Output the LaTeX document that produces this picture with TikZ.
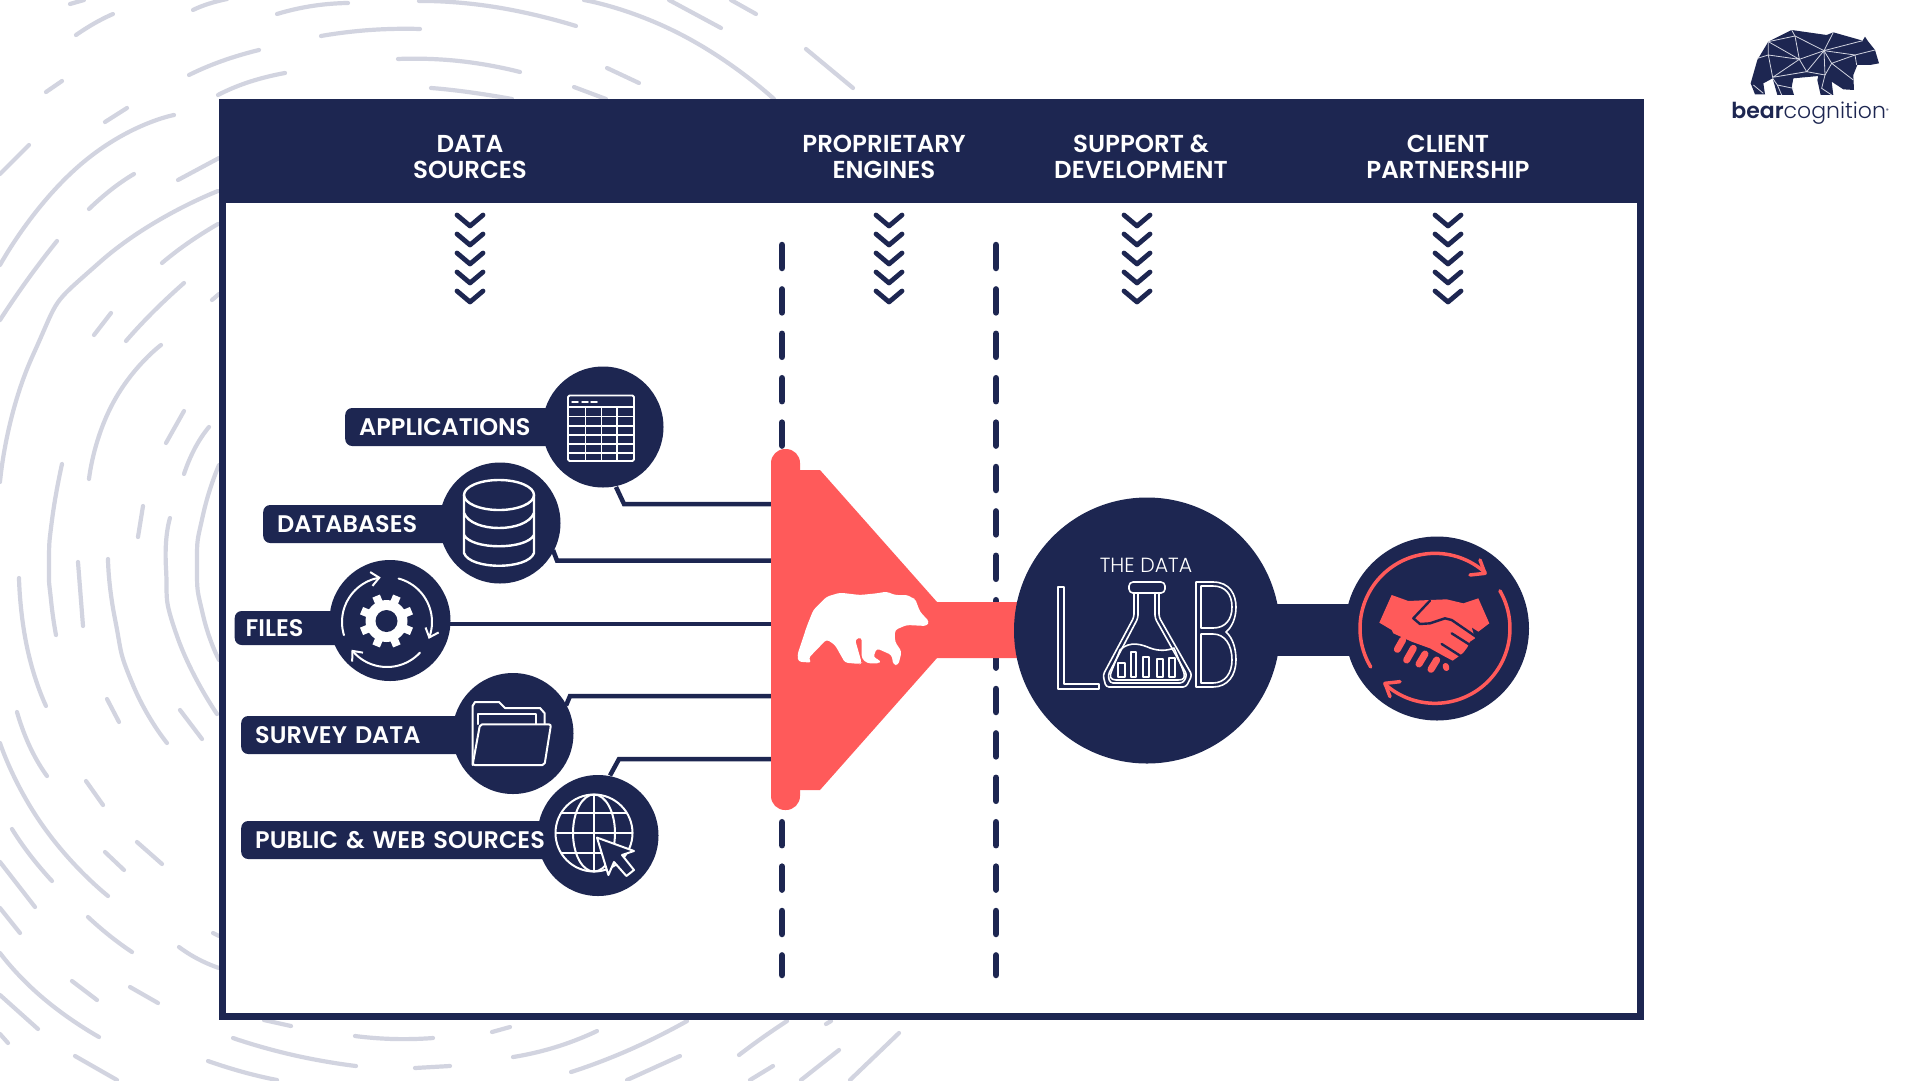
\documentclass[tikz,border=0pt]{standalone}
\usepackage{fontspec}
\usepackage{tikz}
\usepackage{xcolor}
\usetikzlibrary{arrows.meta}
\setmainfont{Poppins}[BoldFont={Poppins SemiBold}]
\newfontfamily\lightfont{Poppins Light}
\definecolor{navy}{RGB}{29,38,81}
\definecolor{coral}{RGB}{255,90,90}
\definecolor{ringgrey}{RGB}{210,212,224}
\newcommand{\ringarc}[1]{\draw[ring] plot[smooth,tension=1] coordinates {#1};}
\tikzset{
  ring/.style={line width=4.2pt,line cap=round,draw=ringgrey},
  head/.style={font=\bfseries\fontsize{24.5}{25.5}\selectfont,align=center,text=white},
  tag/.style={fill=navy,rounded corners=7pt,anchor=west,minimum height=38pt,inner xsep=14pt,inner ysep=0pt,align=left,
    text=white,font=\bfseries\fontsize{24}{26}\selectfont},
  disc/.style={circle,fill=navy,inner sep=0pt,minimum size=121pt},
  wire/.style={line width=4.5pt,draw=navy,line join=miter},
  chevron/.style={line width=4.8pt,draw=navy,line cap=round,line join=round},
  divider/.style={line width=6.5pt,draw=navy,line cap=round,dash pattern=on 23pt off 21.4pt},
  icon/.style={line width=2pt,draw=white,line join=round,line cap=round},
  labline/.style={line width=1.6pt,draw=white,line join=round},
  shake/.style={line width=3.5pt,draw=coral,line cap=round,line join=round},
  finger/.style={line width=7pt,draw=coral,line cap=round},
  gap/.style={line width=2.4pt,draw=navy,line join=round,line cap=round},
  net/.style={line width=0.8pt,draw=ringgrey}
}
\begin{document}
\begin{tikzpicture}[x=1pt,y=-1pt]
  \useasboundingbox (0,0) rectangle (1920,1080);
  \clip (0,0) rectangle (1920,1080);
  \fill[white] (0,0) rectangle (1920,1080);

  \ringarc{(70,4)(84,0)}
  \ringarc{(76,35)(95,23)(113,14)}
  \ringarc{(193,10)(208,4)(227,-1)}
  \ringarc{(277,14)(312,6)(348,3)}
  \ringarc{(419,1)(495,7)(576,26)}
  \ringarc{(321,36)(370,30)(420,29)}
  \ringarc{(189,75)(222,61)(259,50)}
  \ringarc{(46,92)(62,81)}
  \ringarc{(398,59)(459,61)(520,72)}
  \ringarc{(218,95)(249,82)(285,73)}
  \ringarc{(431,88)(468,92)(512,99)}
  \ringarc{(584,0)(682,35)(774,99)}
  \ringarc{(669,0)(721,28)}
  \ringarc{(731,0)(756,14)}
  \ringarc{(607,68)(639,83)}
  \ringarc{(574,87)(606,99)}
  \ringarc{(806,49)(853,88)}
  \ringarc{(105,122)(127,108)}
  \ringarc{(0,174)(29,145)}
  \ringarc{(0,265)(80,165)(174,115)}
  \ringarc{(178,180)(219,158)}
  \ringarc{(89,209)(112,189)(134,174)}
  \ringarc{(0,320)(28,279)(57,241)}
  \ringarc{(0,482)(33,355)(100,262)(218,191)}
  \ringarc{(162,263)(188,243)(218,224)}
  \ringarc{(212,300)(219,294)}
  \ringarc{(94,335)(111,313)}
  \ringarc{(126,341)(153,312)(184,283)}
  \ringarc{(89,479)(113,403)(161,345)}
  \ringarc{(166,443)(184,411)}
  \ringarc{(184,474)(195,448)(209,427)}
  \ringarc{(219,465)(203,515)(197,565)(203,615)(219,660)}
  \ringarc{(62,464)(52,520)(49,565)(51,600)(56,635)}
  \ringarc{(138,537)(143,506)}
  \ringarc{(170,518)(166,568)(177,636)(217,714)}
  \ringarc{(78,562)(83,626)}
  \ringarc{(108,559)(115,619)(133,685)(167,743)}
  \ringarc{(19,578)(27,647)(46,706)}
  \ringarc{(107,699)(119,722)}
  \ringarc{(180,710)(202,739)}
  \ringarc{(17,712)(30,747)(47,776)}
  \ringarc{(0,743)(43,826)(108,896)}
  \ringarc{(86,781)(103,805)}
  \ringarc{(12,829)(30,855)(52,881)}
  \ringarc{(0,862)(35,907)}
  \ringarc{(0,908)(20,933)}
  \ringarc{(105,852)(124,870)}
  \ringarc{(137,842)(162,864)}
  \ringarc{(88,917)(110,936)(132,952)}
  \ringarc{(213,933)(219,936)}
  \ringarc{(179,947)(198,959)(219,968)}
  \ringarc{(0,953)(43,998)(99,1037)}
  \ringarc{(72,981)(97,1000)}
  \ringarc{(130,987)(158,1003)}
  \ringarc{(0,995)(38,1029)}
  \ringarc{(0,1034)(8,1043)}
  \ringarc{(75,1056)(117,1080)}
  \ringarc{(264,1020)(291,1026)}
  \ringarc{(233,1038)(293,1055)(356,1066)}
  \ringarc{(355,1036)(394,1039)(433,1038)}
  \ringarc{(492,1032)(510,1027)}
  \ringarc{(415,1068)(450,1066)}
  \ringarc{(208,1061)(243,1072)(277,1080)}
  \ringarc{(513,1057)(556,1047)(597,1031)}
  \ringarc{(571,1072)(629,1050)(687,1021)}
  \ringarc{(739,1055)(762,1038)(787,1021)}
  \ringarc{(826,1024)(831,1021)}
  \ringarc{(627,1080)(680,1056)}
  \ringarc{(750,1080)(773,1066)}
  \ringarc{(801,1080)(839,1050)}
  \ringarc{(850,1080)(899,1033)}

  \draw[navy,fill=white,line width=7pt] (222.5,102.5) rectangle (1640,1016.5);
  \fill[navy] (219,99) rectangle (1643,203);
  \node[head] (sources) at (470,157) {DATA\\SOURCES};
  \node[head] (engines) at (884,157) {PROPRIETARY\\ENGINES};
  \node[head] (support) at (1141,157) {SUPPORT \&\\DEVELOPMENT};
  \node[head] (client) at (1448,157) {CLIENT\\PARTNERSHIP};

  \foreach \cx in {470,889,1137,1448}
    \foreach \k in {0,...,4}
      \draw[chevron] ({\cx-13},{215+19*\k}) -- (\cx,{226+19*\k}) -- ({\cx+13},{215+19*\k});
  \draw[divider] (782,245) -- (782,975);
  \draw[divider] (996,245) -- (996,975);

  \fill[coral] (785,470) -- (820,470) -- (937,602) -- (1060,602) -- (1060,658) -- (937,658) -- (820,790) -- (785,790) -- cycle;
  \node[fill=coral,rounded corners=14pt,minimum width=29pt,minimum height=361pt,inner sep=0pt] (funnel) at (785.5,629.5) {};
  \begin{scope}[shift={(780,580)},scale=0.3333]
    \fill[white,rounded corners=3pt] (55,245) -- (95,248) -- (85,235) -- (140,178) -- (165,195) -- (195,248) -- (240,252) -- (245,248) -- (225,178) -- (245,172) -- (245,235) -- (262,250) -- (300,250) -- (300,240) -- (280,232) -- (290,205) -- (335,225) -- (340,255) -- (355,255) -- (365,215) -- (345,185) -- (345,150) -- (380,135) -- (440,138) -- (448,125) -- (420,95) -- (405,55) -- (395,55) -- (385,45) -- (345,45) -- (320,35) -- (290,40) -- (240,45) -- (180,38) -- (140,50) -- (100,90) -- (80,140) -- (52,225) -- cycle;
  \end{scope}

  \node[disc] (apps) at (603,427) {};
  \node[disc] (bases) at (500,523) {};
  \node[disc] (files) at (390,620.5) {};
  \node[disc] (survey) at (513,733.5) {};
  \node[disc] (web) at (598,835.5) {};

  \draw[wire] (apps.center) ++(13,60) -- (624,504) -- (funnel.west |- 0,504);
  \draw[wire] (bases.center) ++(53,27) -- (557,560.5) -- (funnel.west |- 0,560.5);
  \draw[wire] (files.east) ++(-2,3.5) -- (funnel.west |- 0,624);
  \draw[wire] (survey.center) ++(53,-28) -- (570,696) -- (funnel.west |- 0,696);
  \draw[wire] (web.center) ++(12,-60) -- (619,759) -- (funnel.west |- 0,759);

  \node[tag,text width=197pt] (appstag) at (345,427) {APPLICATIONS};
  \node[tag,text width=180pt] (basestag) at (263,524) {DATABASES};
  \node[tag,text width=93pt,inner xsep=11pt,minimum height=34pt] (filestag) at (234.5,628) {FILES};
  \node[tag,text width=211pt] (surveytag) at (241,735) {SURVEY DATA};
  \node[tag,text width=291pt] (webtag) at (241,840) {PUBLIC \& WEB SOURCES};

  \draw[icon,line width=1.8pt,rounded corners=1.5pt] (568,395.5) rectangle (634,461);
  \draw[icon,line width=1.8pt] (568,407) -- (634,407);
  \foreach \ry in {416.6,426,435,444,453}
    \draw[icon,line width=1.5pt] (568,\ry) -- (634,\ry);
  \foreach \rx in {585.5,601.5,617}
    \draw[icon,line width=1.5pt] (\rx,407) -- (\rx,461);
  \foreach \rx in {572,582,591}
    \draw[icon,line width=1.5pt] (\rx,402) -- ({\rx+6},402);

  \draw[icon,line width=2.4pt] (499,495) ellipse [x radius=35,y radius=15];
  \draw[icon,line width=2.4pt] (464,495) -- (464,553) .. controls (470,570) and (528,570) .. (534,553) -- (534,495);
  \draw[icon,line width=2.4pt] (464,513) .. controls (472,533) and (526,533) .. (534,513);
  \draw[icon,line width=2.4pt] (464,535) .. controls (472,550) and (526,550) .. (534,535);

  \fill[white] (386.5,621) circle [radius=21];
  \foreach \a in {22.5,67.5,...,337.5}
    \draw[white,line width=8pt] ({386.5+18*cos(\a)},{621+18*sin(\a)}) -- ({386.5+27*cos(\a)},{621+27*sin(\a)});
  \fill[navy] (386.5,621) circle [radius=11];
  \foreach \s/\e in {163/262,285/382,43/142}
    \draw[icon,-{Straight Barb[length=8pt,width=14pt]}] plot[domain=\s:\e,samples=25,smooth] ({387+45*cos(\x)},{622+45*sin(\x)});

  \draw[icon] (472.6,765) -- (472.6,706) -- (475,702) -- (499,702) -- (505,708) -- (540,708) -- (544.5,713) -- (544.5,724);
  \draw[icon] (478,724) -- (478,714.4) -- (535.7,714.4) -- (535.7,724);
  \draw[icon,rounded corners=2pt] (480,724.4) -- (551,724.4) -- (544.5,765) -- (472.6,765) -- cycle;

  \draw[icon] (594,833) circle [radius=38.5];
  \draw[icon] (594,833) ellipse [x radius=21,y radius=38.5];
  \draw[icon] (594,794.5) -- (594,871.5);
  \draw[icon] (555.5,833) -- (632.5,833);
  \draw[icon] (561.4,812.5) -- (626.6,812.5);
  \draw[icon] (561.4,853) -- (626.6,853);
  \draw[icon,fill=navy] (597,837.6) -- (634,851) -- (622,855) -- (634,870) -- (626.4,876) -- (614,862) -- (608.4,875) -- cycle;

  \draw[line width=52pt,draw=navy] (1147,630) -- (1437,630);
  \node[disc,minimum size=266pt] (lab) at (1147,630.5) {};
  \node[disc,minimum size=184pt] (partner) at (1437,628.5) {};

  \node[text=white,font=\lightfont\fontsize{20.5}{22}\selectfont] (labtitle) at (1146,565) {THE DATA};
  \draw[labline] (1058,587) -- (1064,587) -- (1064,684) -- (1099,684) -- (1099,689) -- (1058,689) -- cycle;
  \draw[labline] (1196,582) -- (1213,582) .. controls (1230,582) and (1236,595) .. (1236,607) .. controls (1236,618) and (1232,627) .. (1226,632) .. controls (1233,638) and (1236,649) .. (1236,660) .. controls (1236,675) and (1228,687) .. (1213,687) -- (1196,687) -- cycle;
  \draw[labline] (1201,586) -- (1213,586) .. controls (1225,586) and (1232,594) .. (1232,607) .. controls (1232,620) and (1225,628) .. (1213,628) -- (1201,628) -- cycle;
  \draw[labline] (1201,634) -- (1213,634) .. controls (1225,634) and (1232,645) .. (1232,660) .. controls (1232,673) and (1225,683) .. (1213,683) -- (1201,683) -- cycle;
  \draw[labline,rounded corners=4pt] (1129,582) rectangle (1165,593);
  \draw[labline,rounded corners=3pt] (1134,593) -- (1134,617) -- (1103,675) -- (1106,687) -- (1186,687) -- (1192,675) -- (1159,617) -- (1159,593);
  \draw[labline,rounded corners=3pt] (1138,593) -- (1138,618) -- (1108,675) -- (1110,683) -- (1183,683) -- (1187,675) -- (1155,618) -- (1155,593);
  \draw[labline] (1120,650) .. controls (1130,640) and (1143,645) .. (1150,648) .. controls (1158,651) and (1167,651) .. (1174,648) -- (1183,670) .. controls (1186,678) and (1184,680) .. (1178,680) -- (1116,680) .. controls (1110,680) and (1109,676) .. (1112,670) -- cycle;
  \foreach \ba/\bb/\bt in {1118/1125/663,1131/1136/652,1143/1149/657,1157/1163/659,1169/1175/658}
    \draw[labline] (\ba,\bt) rectangle (\bb,677);

  \begin{scope}[shift={(1350,540)},scale=0.3333]
    \draw[shake] plot[domain=149:312,samples=40,smooth] ({255+225*cos(\x)},{265+225*sin(\x)});
    \draw[shake] plot[domain=330:492,samples=40,smooth] ({255+225*cos(\x)},{265+225*sin(\x)});
    \draw[shake] (390,60) -- (405,100) -- (360,105);
    \draw[shake] (150,425) -- (105,430) -- (120,470);
    \fill[coral] (125,165) -- (175,183) -- (240,180) -- (290,178) -- (340,190) -- (385,175) -- (418,250) -- (385,275) -- (365,262) -- (375,295) -- (360,305) -- (352,322) -- (340,338) -- (322,352) -- (308,362) -- (285,350) -- (240,325) -- (185,305) -- (130,280) -- (125,270) -- (88,248) -- cycle;
    \draw[gap] (240,182) -- (190,235) -- (210,252) -- (240,250) -- (285,235) -- (305,240) -- (385,295);
    \draw[gap] (305,280) -- (365,318);
    \draw[gap] (275,312) -- (335,350);
    \draw[finger] (158,300) -- (142,328);
    \draw[finger] (190,325) -- (170,360);
    \draw[finger] (225,342) -- (207,372);
    \draw[finger] (260,360) -- (243,388);
    \draw[line width=6pt,draw=coral,line cap=round] (287,378) -- (289,384);
  \end{scope}

  \begin{scope}[shift={(1700,0)},scale=0.3333]
    \fill[navy] (205,125) -- (275,90) -- (380,105) -- (400,97) -- (488,122) -- (495,110) -- (505,125) -- (525,150) -- (537,190) -- (510,195) -- (472,195) -- (460,225) -- (462,270) -- (430,268) -- (395,245) -- (400,285) -- (362,285) -- (352,240) -- (355,228) -- (280,235) -- (275,262) -- (282,285) -- (232,285) -- (218,235) -- (190,250) -- (195,283) -- (165,283) -- (152,250) -- (172,180) -- cycle;
    \draw[net] (205,125) -- (285,108) -- (275,90) (285,108) -- (372,152) -- (400,97) (372,152) -- (488,122);
    \draw[net] (205,125) -- (298,178) -- (372,152) (285,108) -- (298,178) (172,175) -- (205,165) -- (298,178);
    \draw[net] (205,125) -- (205,165) -- (218,232) -- (298,178) -- (320,215) -- (218,232);
    \draw[net] (372,152) -- (375,225) -- (320,215) -- (372,152) (372,152) -- (465,165) -- (525,150) (465,165) -- (470,195);
    \draw[net] (395,190) -- (465,165) (372,152) -- (395,190) -- (375,225) (395,190) -- (460,240) (375,225) -- (365,265) -- (395,285);
    \draw[net] (160,255) -- (190,280) (232,255) -- (280,265) (218,235) -- (232,255) -- (245,285);
  \end{scope}
  \node[anchor=base,text=navy,inner sep=0pt] (logo) at (1810,118) {\fontsize{22}{24}\selectfont\bfseries bear{\lightfont\mdseries cognition}\raisebox{6pt}{\fontsize{5}{6}\selectfont\symbol{"00AE}}};
\end{tikzpicture}
\end{document}
